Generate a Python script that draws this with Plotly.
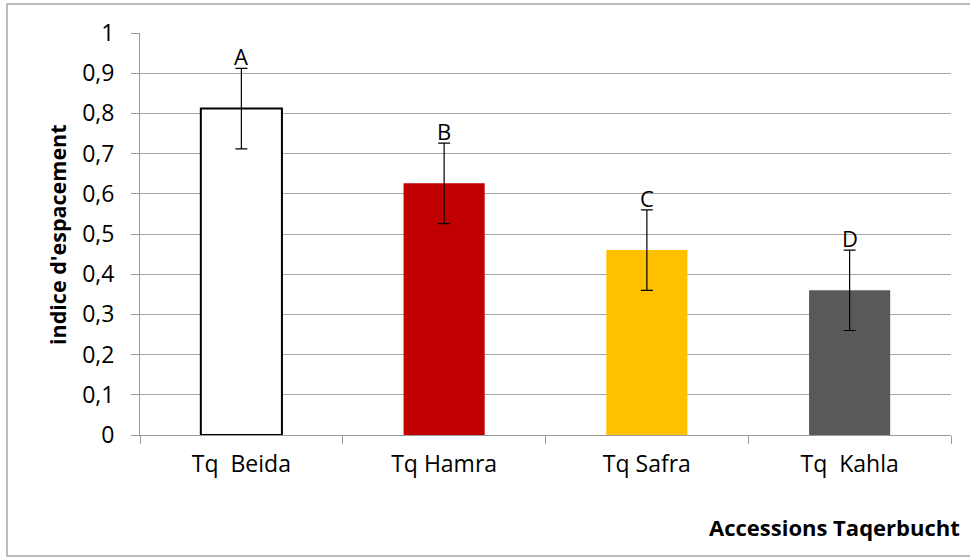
import plotly.graph_objects as go

categories = ["Tq\u00a0 Beida", "Tq Hamra", "Tq Safra", "Tq\u00a0 Kahla"]
values = [0.812, 0.626, 0.46, 0.36]
errors = [0.1, 0.1, 0.1, 0.1]
letters = ["A", "B", "C", "D"]
fill_colors = ["#FFFFFF", "#C00000", "#FFC000", "#595959"]
line_colors = ["#000000", "#C00000", "#FFC000", "#595959"]
line_widths = [2, 0, 0, 0]
y_ticks = [0, 0.1, 0.2, 0.3, 0.4, 0.5, 0.6, 0.7, 0.8, 0.9, 1]

W, H = 970, 559
L, R, T, B = 140, 19, 33, 124

FONT = "'Open Sans', sans-serif"

fig = go.Figure()
fig.add_trace(go.Bar(
    x=categories, y=values,
    marker=dict(color=fill_colors, line=dict(color=line_colors, width=line_widths)),
    error_y=dict(type="data", array=errors, color="#000000", thickness=1.2, width=6),
    width=0.4,
    showlegend=False,
))

for c, v, e, t in zip(categories, values, errors, letters):
    fig.add_annotation(x=c, y=v + e, text=t, showarrow=False, yanchor="bottom",
                       yshift=-5, font=dict(family=FONT, size=22, color="#000000"))

pw = W - L - R
ph = H - T - B
fig.add_shape(type="rect", xref="paper", yref="paper",
              x0=(7 - L) / pw, x1=(975 - L) / pw,
              y0=(H - B - 556) / ph, y1=(H - B - 4) / ph,
              line=dict(color="#A6A6A6", width=1.5), fillcolor="rgba(0,0,0,0)", layer="below")

fig.update_layout(
    width=W, height=H,
    margin=dict(l=L, r=R, t=T, b=B),
    paper_bgcolor="white", plot_bgcolor="white",
    separators=", ",
    font=dict(family=FONT, size=22, color="#000000"),
    xaxis=dict(
        showline=True, linecolor="#9A9A9A", linewidth=1,
        ticks="outside", tickson="boundaries", ticklen=8, tickcolor="#9A9A9A",
        tickfont=dict(family=FONT, size=23), showgrid=False,
        ticklabelstandoff=8,
        range=[-0.5, 3.5],
    ),
    yaxis=dict(
        range=[0, 1], tickvals=y_ticks,
        showgrid=True, gridcolor="#A6A6A6", gridwidth=1,
        showline=True, linecolor="#9A9A9A", linewidth=1,
        ticks="outside", ticklen=8, tickcolor="#9A9A9A",
        tickfont=dict(family=FONT, size=23), zeroline=False,
        ticklabelstandoff=12,
    ),
)

fig.add_annotation(xref="paper", yref="paper", x=(57.5 - L) / pw, y=(H - B - 234.5) / ph,
                   text="<b>indice d'espacement</b>", showarrow=False, textangle=-90,
                   xanchor="center", yanchor="middle", font=dict(family=FONT, size=21.5))

fig.add_annotation(xref="paper", yref="paper", x=(962 - L) / pw, y=(H - B - 527) / ph,
                   text="<b>Accessions Taqerbucht</b>", showarrow=False,
                   xanchor="right", yanchor="middle", font=dict(family=FONT, size=22))

fig.write_html("out.html")
